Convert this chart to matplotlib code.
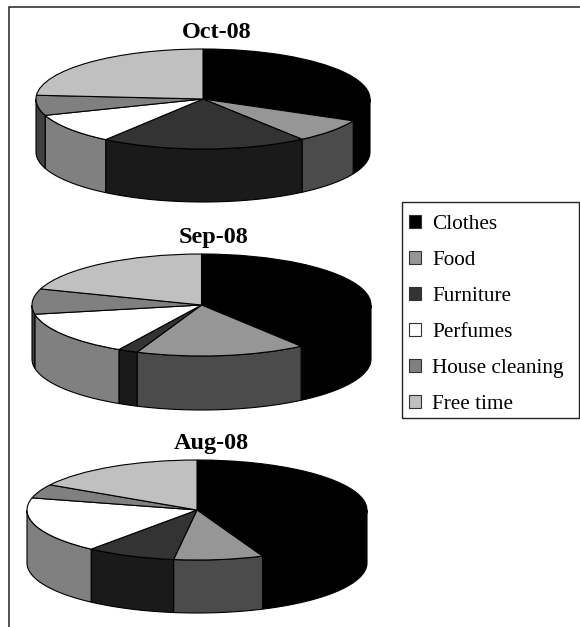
import numpy as np
import matplotlib
matplotlib.use("Agg")
import matplotlib.pyplot as plt
from matplotlib.patches import Patch, Rectangle

plt.rcParams['font.family'] = ['Liberation Serif', 'DejaVu Serif']

categories = ["Clothes", "Food", "Furniture", "Perfumes", "House cleaning", "Free time"]
oct_values = [32.2, 7.7, 20.0, 9.8, 6.5, 23.8]
sep_values = [40.0, 16.2, 1.9, 14.0, 8.0, 19.9]
aug_values = [43.7, 8.5, 8.5, 18.2, 4.5, 16.6]
titles = ["Oct-08", "Sep-08", "Aug-08"]
top_colors = ["#000000", "#969696", "#333333", "#ffffff", "#808080", "#c0c0c0"]
side_colors = ["#000000", "#4b4b4b", "#1a1a1a", "#808080", "#404040", "#606060"]

W, H = 580, 627
fig = plt.figure(figsize=(W / 100, H / 100), dpi=100, facecolor="white")

# page frame and legend box (pixel coordinates)
bg = fig.add_axes([0, 0, 1, 1], zorder=0)
bg.set_xlim(0, W)
bg.set_ylim(H, 0)
bg.axis("off")
bg.plot([9, 9, W], [H, 7, 7], color="#222222", lw=1.1, solid_joinstyle="miter")
bg.add_patch(Rectangle((402, 202), 177, 216, facecolor="white", edgecolor="#222222", linewidth=1.0))


def pie3d(values, title, cx, cy, rx, ry, depth, title_x, title_y):
    ax = fig.add_axes([(cx - rx) / W, (H - (cy + ry + depth)) / H,
                       2 * rx / W, (2 * ry + depth) / H], zorder=2)
    ax.pie(values, colors=top_colors, startangle=90, counterclock=False, radius=1,
           wedgeprops=dict(edgecolor="black", linewidth=0.8, zorder=3))
    for w in ax.patches:
        w.set_clip_on(False)
    d = depth / ry
    edges = np.cumsum([0] + list(values)) / np.sum(values) * 360
    for a, b, c in zip(edges[:-1], edges[1:], side_colors):
        lo, hi = max(a, 90), min(b, 270)
        if hi <= lo:
            continue
        t = np.radians(np.linspace(lo, hi, 80))
        x, y = np.sin(t), np.cos(t)
        ax.fill(np.r_[x, x[::-1]], np.r_[y, y[::-1] - d], facecolor=c,
                edgecolor="black", linewidth=0.8, zorder=1, clip_on=False)
    ax.set_aspect("auto")
    ax.set_xlim(-1, 1)
    ax.set_ylim(-1 - d, 1)
    ax.axis("off")
    bg.text(title_x, title_y, title, ha="center", va="center", fontsize=17.5,
            fontweight="bold", color="black")


pie3d(oct_values, titles[0], 203, 99, 167, 50, 53, 217, 32)
pie3d(sep_values, titles[1], 201.5, 305, 169.5, 51, 54, 214, 238)
pie3d(aug_values, titles[2], 197, 510, 170, 50, 53, 211, 444)

handles = [Patch(facecolor=c, edgecolor="#333333", linewidth=0.8) for c in top_colors]
leg = fig.legend(handles, categories, loc="upper left",
                 bbox_to_anchor=(409 / W, 1 - 215 / H), bbox_transform=fig.transFigure,
                 fontsize=15.3, frameon=False, borderaxespad=0, borderpad=0,
                 handlelength=0.565, handleheight=0.565, handletextpad=0.52,
                 labelspacing=0.80)
leg.set_zorder(5)

fig.savefig("out.png", dpi=100, facecolor="white")
